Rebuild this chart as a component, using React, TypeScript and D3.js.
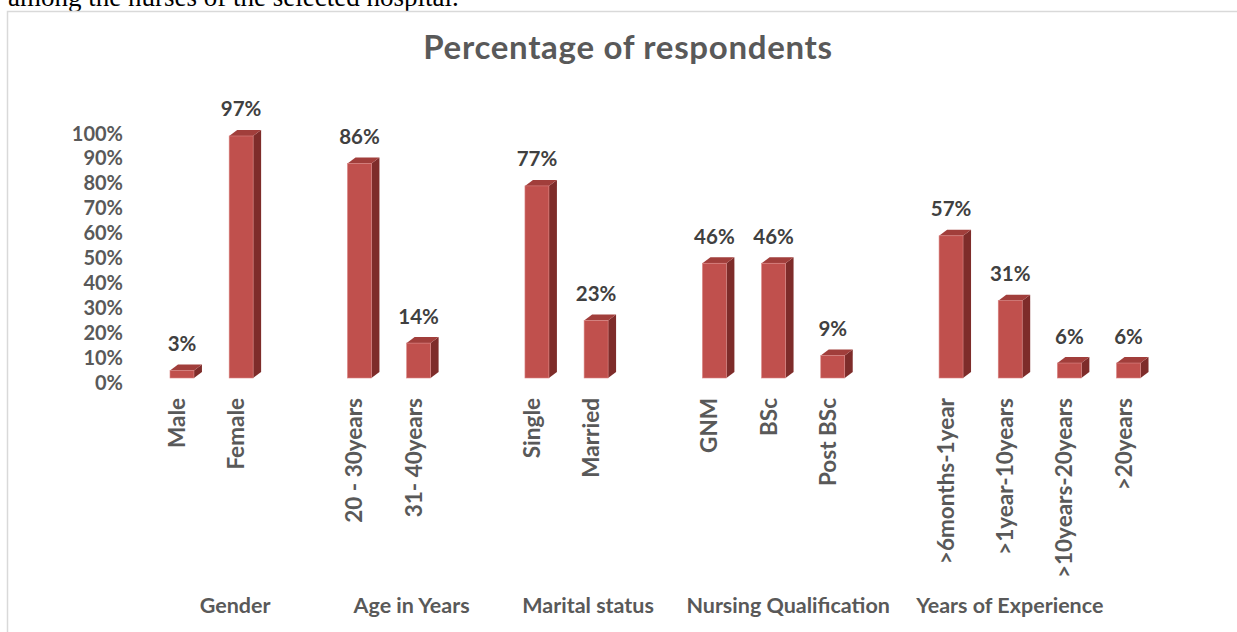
import * as d3 from 'd3';

const groups = ['Gender', 'Age in Years', 'Marital status', 'Nursing Qualification', 'Years of Experience'];
const groupCategories = [
  ['Male', 'Female'],
  ['20 - 30years', '31- 40years'],
  ['Single', 'Married'],
  ['GNM', 'BSc', 'Post BSc'],
  ['>6months-1year', '>1year-10years', '>10years-20years', '>20years'],
];
const groupValues = [
  [3, 97],
  [86, 14],
  [77, 23],
  [46, 46, 9],
  [57, 31, 6, 6],
];
const yTicks = [0, 10, 20, 30, 40, 50, 60, 70, 80, 90, 100];

const W = 1237;
const H = 632;
const FONT = 'Lato, Carlito, Calibri, sans-serif';

// slot list: every group followed by a blank slot (except the last one)
type Slot = { key: string; label: string; value: number | null; group: number };
const slots: Slot[] = [];
groups.forEach((g, gi) => {
  groupCategories[gi].forEach((c, ci) => {
    slots.push({ key: `${gi}-${ci}`, label: c, value: groupValues[gi][ci], group: gi });
  });
  if (gi < groups.length - 1) slots.push({ key: `${gi}-blank`, label: '', value: null, group: gi });
});

const x = d3.scaleBand<string>()
  .domain(slots.map(s => s.key))
  .range([152.4, 152.4 + 59.16 * slots.length])
  .padding(0);

const y = d3.scaleLinear().domain([0, 100]).range([378, 128.5]);

const barW = x.bandwidth() * 0.405;
const dx = 8;
const dy = 6;
const labelNudge = [-6, -7, -8, -15, -30];

const App = () => {
  const cx = (k: string) => (x(k) ?? 0) + x.bandwidth() / 2;

  return (
    <svg width={W} height={H} style={{ position: 'absolute', left: 0, top: 0, background: '#fff' }}>
      <text x={8} y={5.5} fontFamily="'Liberation Serif', 'Times New Roman', serif" fontSize={27} fill="#000">
        among the nurses of the selected hospital.
      </text>
      <rect x={7.5} y={11.5} width={W} height={H} fill="none" stroke="#d9d9d9" strokeWidth={1.5} />

      <text x={628} y={59} textAnchor="middle" fontFamily={FONT} fontWeight={700} fontSize={33} letterSpacing={0.7} fill="#595959">
        Percentage of respondents
      </text>

      {yTicks.map(t => (
        <text key={t} x={123} y={y(t) + 5} dy="0.35em" textAnchor="end" fontFamily={FONT} fontWeight={700} fontSize={20} fill="#595959">
          {t}%
        </text>
      ))}

      {slots.filter(s => s.value !== null).map(s => {
        const c = cx(s.key);
        const x0 = c - barW / 2;
        const x1 = c + barW / 2;
        const yt = y(s.value as number);
        const yb = y(0);
        return (
          <g key={s.key}>
            <polygon points={`${x1},${yt} ${x1 + dx},${yt - dy} ${x1 + dx},${yb - dy} ${x1},${yb}`} fill="#7e2c2a" />
            <polygon points={`${x0},${yt} ${x1},${yt} ${x1 + dx},${yt - dy} ${x0 + dx},${yt - dy}`} fill="#a13e3b" />
            <rect x={x0} y={yt} width={barW} height={yb - yt} fill="#c0504d" stroke="#d98482" strokeWidth={0.6} />
            <text x={c} y={yt - 19.5} textAnchor="middle" fontFamily={FONT} fontWeight={700} fontSize={20.5} fill="#404040">
              {s.value}%
            </text>
            <text transform={`translate(${c + 3},398) rotate(-90)`} textAnchor="end" fontFamily={FONT} fontWeight={700} fontSize={22.5} fill="#595959">
              {s.label}
            </text>
          </g>
        );
      })}

      {groups.map((g, gi) => {
        const members = slots.filter(s => s.group === gi);
        const center = d3.mean(members, s => cx(s.key)) ?? 0;
        return (
          <text key={g} x={center + labelNudge[gi]} y={613} textAnchor="middle" fontFamily={FONT} fontWeight={700} fontSize={21.5} fill="#595959">
            {g}
          </text>
        );
      })}
    </svg>
  );
};

export default App;
